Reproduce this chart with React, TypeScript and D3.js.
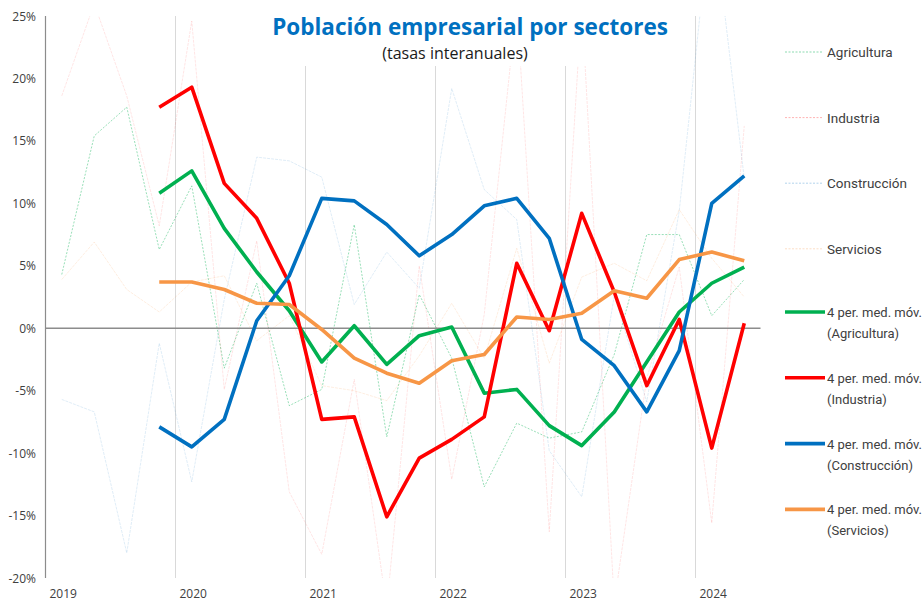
import {line, scaleBand, scaleLinear} from "d3";

const QUARTERS = [
  "2019-T1", "2019-T2", "2019-T3", "2019-T4",
  "2020-T1", "2020-T2", "2020-T3", "2020-T4",
  "2021-T1", "2021-T2", "2021-T3", "2021-T4",
  "2022-T1", "2022-T2", "2022-T3", "2022-T4",
  "2023-T1", "2023-T2", "2023-T3", "2023-T4",
  "2024-T1", "2024-T2"
];
const YEARS = ["2019", "2020", "2021", "2022", "2023", "2024"];
const Y_TICKS = [25, 20, 15, 10, 5, 0, -5, -10, -15, -20];

// tasas interanuales (%), trimestrales
const agricultura = [4.3, 15.4, 17.7, 6.3, 11.4, -3.2, 3.6, -6.2, -4.9, 8.3, -8.7, 2.7, -2.4, -12.7, -7.6, -8.8, -8.3, -2.1, 7.5, 7.5, 1.0, 3.9];
const industria = [18.6, 26, 18.6, 8.2, 24.6, -4.9, 7.0, -13.1, -18.1, -4.1, -22.4, 5.0, -12.1, 1.1, 26, -16.3, 26, -22, -4.0, 4.9, -15.6, 16.2];
const construccion = [-5.7, -6.7, -18.0, -1.2, -12.3, 2.3, 13.7, 13.4, 12.1, 1.9, 6.1, 3.2, 19.2, 11.1, 8.7, -9.8, -13.5, 2.6, -5.9, 9.4, 34, 12];
const servicios = [3.9, 6.9, 3.1, 1.3, 3.7, 4.2, -1.0, 1.0, -4.6, -5.0, -5.8, -2.2, 2.0, -2.4, 6.4, -2.8, 4.1, 5.2, 3.8, 9.5, 5.6, 2.5];

// medias móviles de 4 periodos (desde 2019-T4)
const mmAgricultura = [null, null, null, 10.8, 12.6, 8.0, 4.5, 1.4, -2.7, 0.2, -2.9, -0.6, 0.1, -5.2, -4.9, -7.8, -9.4, -6.7, -2.7, 1.3, 3.6, 4.9];
const mmIndustria = [null, null, null, 17.7, 19.3, 11.6, 8.8, 3.6, -7.3, -7.1, -15.1, -10.4, -8.9, -7.1, 5.2, -0.2, 9.2, 2.9, -4.6, 0.7, -9.6, 0.4];
const mmConstruccion = [null, null, null, -7.9, -9.5, -7.3, 0.6, 4.2, 10.4, 10.2, 8.3, 5.8, 7.5, 9.8, 10.4, 7.2, -0.9, -3.0, -6.7, -1.8, 10.0, 12.2];
const mmServicios = [null, null, null, 3.7, 3.7, 3.1, 2.0, 1.9, -0.1, -2.4, -3.6, -4.4, -2.6, -2.1, 0.9, 0.7, 1.2, 3.0, 2.4, 5.5, 6.1, 5.4];

const RAW = [
  {name: "Agricultura", values: agricultura, color: "#00B050", opacity: 0.45, dash: "2 1.5"},
  {name: "Industria", values: industria, color: "#FF0000", opacity: 0.12, dash: "3 1"},
  {name: "Construcción", values: construccion, color: "#0070C0", opacity: 0.14, dash: "3 1"},
  {name: "Servicios", values: servicios, color: "#F79646", opacity: 0.18, dash: "3 1"}
];

const MOVING = [
  {name: "Agricultura", values: mmAgricultura, color: "#00B050"},
  {name: "Industria", values: mmIndustria, color: "#FF0000"},
  {name: "Construcción", values: mmConstruccion, color: "#0070C0"},
  {name: "Servicios", values: mmServicios, color: "#F79646"}
];

const WIDTH = 923;
const HEIGHT = 602;

export default function App() {
  const plot = {left: 45.5, right: 760.5, top: 16, bottom: 578};

  const x = scaleBand<string>().domain(QUARTERS).range([plot.left, plot.right]).padding(0);
  const y = scaleLinear().domain([-20, 25]).range([plot.bottom, plot.top]);
  const cx = (q: string) => (x(q) ?? 0) + x.bandwidth() / 2;

  const path = line<number | null>()
    .defined((d) => d != null)
    .x((_, i) => cx(QUARTERS[i]))
    .y((d) => y(d as number));

  const yearStart = (year: string) => x(`${year}-T1`) ?? 0;
  const legendFont = "Roboto, 'Liberation Sans', sans-serif";
  const axisFont = "'Open Sans', 'Liberation Sans', sans-serif";

  return (
    <svg
      width={WIDTH}
      height={HEIGHT}
      style={{position: "absolute", left: 0, top: 0, background: "#fff"}}
    >
      <defs>
        <clipPath id="plot-clip">
          <rect x={plot.left} y={plot.top} width={plot.right - plot.left} height={plot.bottom - plot.top} />
        </clipPath>
      </defs>

      {YEARS.slice(1).map((year) => (
        <line
          key={`grid-${year}`}
          x1={yearStart(year)}
          x2={yearStart(year)}
          y1={plot.top}
          y2={plot.bottom}
          stroke="#d9d9d9"
          strokeWidth={1}
        />
      ))}

      <g clipPath="url(#plot-clip)">
        {RAW.map((s) => (
          <path
            key={`raw-${s.name}`}
            d={path(s.values) ?? ""}
            fill="none"
            stroke={s.color}
            strokeOpacity={s.opacity}
            strokeWidth={0.9}
            strokeDasharray={s.dash}
          />
        ))}
      </g>

      <line x1={plot.left} x2={plot.right} y1={y(0)} y2={y(0)} stroke="#8c8c8c" strokeWidth={1.5} />
      <line x1={plot.left} x2={plot.left} y1={plot.top} y2={plot.bottom} stroke="#8c8c8c" strokeWidth={1.2} />

      {MOVING.map((s) => (
        <path
          key={`mm-${s.name}`}
          d={path(s.values) ?? ""}
          fill="none"
          stroke={s.color}
          strokeWidth={3.6}
          strokeLinejoin="round"
        />
      ))}

      {Y_TICKS.map((tick) => (
        <text
          key={`y-${tick}`}
          x={36}
          y={y(tick) + 4.5}
          textAnchor="end"
          fontFamily={axisFont}
          fontSize={12}
          fill="#404040"
        >
          {`${tick}%`}
        </text>
      ))}

      {YEARS.map((year) => (
        <text
          key={`x-${year}`}
          x={yearStart(year) + 4}
          y={598}
          fontFamily={axisFont}
          fontSize={12}
          fill="#404040"
        >
          {year}
        </text>
      ))}

      <rect x={262} y={0} width={420} height={66} fill="#fff" />
      <text
        x={470}
        y={35}
        textAnchor="middle"
        fontFamily="'Open Sans', sans-serif"
        fontWeight={700}
        fontSize={22.5}
        fill="#0070C0"
      >
        Población empresarial por sectores
      </text>
      <text x={455} y={59} textAnchor="middle" fontFamily="'Open Sans', sans-serif" fontSize={16} fill="#1a1a1a">
        (tasas interanuales)
      </text>

      {RAW.map((s, i) => {
        const ly = 52 + i * 65.6;
        return (
          <g key={`leg-raw-${s.name}`}>
            <line
              x1={785}
              x2={822}
              y1={ly}
              y2={ly}
              stroke={s.color}
              strokeOpacity={Math.max(s.opacity, 0.3)}
              strokeWidth={1}
              strokeDasharray="2 1.5"
            />
            <text x={827} y={ly + 5} fontFamily={legendFont} fontSize={13.5} fill="#404040">
              {s.name}
            </text>
          </g>
        );
      })}

      {MOVING.map((s, i) => {
        const ly = 312 + i * 65.8;
        return (
          <g key={`leg-mm-${s.name}`}>
            <line x1={785} x2={825} y1={ly} y2={ly} stroke={s.color} strokeWidth={3.6} />
            <text x={827} y={ly + 5} fontFamily={legendFont} fontSize={13} fill="#404040">
              4 per. med. móv.
            </text>
            <text x={827} y={ly + 26} fontFamily={legendFont} fontSize={13} fill="#404040">
              {`(${s.name})`}
            </text>
          </g>
        );
      })}
    </svg>
  );
}
